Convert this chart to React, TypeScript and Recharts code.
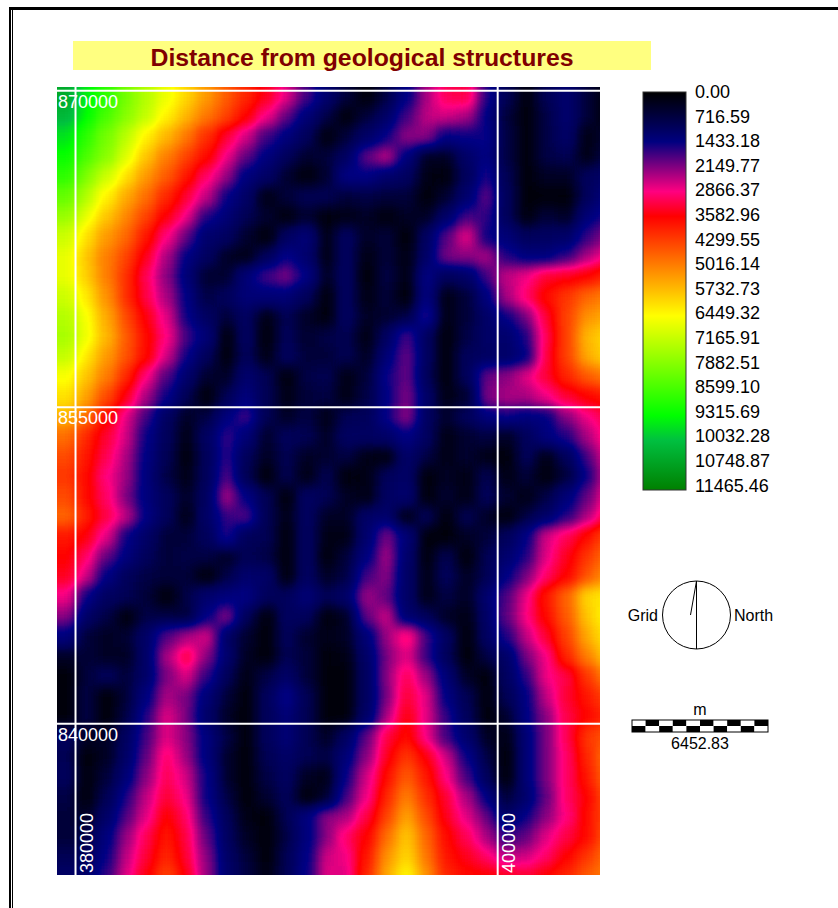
import { ReferenceLine, Scatter, ScatterChart, XAxis, YAxis } from "recharts";

const FONT = '"Liberation Sans", Arial, sans-serif';

// grid centres in map metres
const eastings = [379597, 380545, 381492, 382440, 383387, 384335, 385283, 386230, 387178, 388125, 389073, 390021, 390968, 391916, 392863, 393811, 394759, 395706, 396654, 397601, 398549, 399497, 400444, 401392, 402339, 403287, 404235, 405182];
const northings = [869702, 868754, 867807, 866859, 865912, 864964, 864016, 863069, 862121, 861174, 860226, 859278, 858331, 857383, 856436, 855488, 854540, 853593, 852645, 851698, 850750, 849802, 848855, 847907, 846960, 846012, 845064, 844117, 843169, 842222, 841274, 840326, 839379, 838431, 837484, 836536, 835588, 834641, 833693, 832746];

// distance, in hundreds of metres, one list per northing
const r01 = [105, 95, 88, 80, 73, 66, 60, 53, 46, 40, 34, 27, 18, 11, 5, 1, 6, 14, 24, 31, 32, 16, 7, 1, 7, 11, 5, 1];
const r02 = [102, 93, 85, 78, 71, 63, 56, 49, 43, 36, 28, 20, 12, 6, 1, 5, 10, 18, 25, 26, 24, 14, 5, 1, 6, 11, 5, 1];
const r03 = [96, 88, 80, 72, 63, 56, 49, 41, 33, 26, 18, 13, 8, 1, 5, 10, 15, 22, 22, 14, 15, 15, 6, 1, 6, 10, 2, 4];
const r04 = [92, 85, 78, 68, 58, 50, 43, 37, 28, 20, 13, 8, 4, 5, 9, 20, 25, 13, 3, 3, 10, 14, 6, 1, 6, 7, 2, 6];
const r05 = [88, 79, 70, 61, 53, 46, 38, 30, 23, 13, 10, 4, 1, 4, 14, 14, 11, 9, 2, 1, 8, 16, 7, 1, 3, 3, 8, 10];
const r06 = [82, 73, 63, 55, 48, 40, 33, 25, 15, 10, 2, 5, 7, 7, 5, 6, 5, 5, 1, 4, 11, 20, 8, 1, 1, 1, 8, 13];
const r07 = [76, 67, 58, 51, 43, 35, 28, 16, 12, 7, 4, 1, 4, 1, 2, 3, 1, 3, 3, 10, 18, 17, 8, 1, 5, 3, 12, 16];
const r08 = [70, 61, 53, 47, 38, 29, 20, 11, 9, 4, 1, 9, 12, 2, 9, 3, 5, 1, 9, 19, 27, 15, 12, 8, 9, 10, 17, 22];
const r09 = [67, 58, 50, 43, 34, 24, 14, 9, 3, 2, 8, 15, 11, 2, 9, 2, 5, 2, 10, 21, 22, 24, 16, 13, 13, 17, 24, 29];
const r10 = [67, 59, 50, 41, 31, 22, 12, 4, 4, 12, 18, 21, 14, 3, 9, 1, 6, 2, 14, 8, 10, 18, 25, 28, 33, 34, 36, 40];
const r11 = [70, 62, 52, 41, 32, 24, 14, 6, 8, 12, 12, 12, 8, 1, 9, 2, 5, 1, 14, 2, 5, 13, 24, 30, 37, 42, 47, 50];
const r12 = [73, 65, 55, 44, 35, 27, 15, 9, 5, 9, 2, 7, 3, 1, 9, 3, 4, 6, 17, 2, 5, 10, 15, 21, 33, 43, 52, 55];
const r13 = [74, 66, 56, 46, 37, 29, 18, 12, 1, 9, 1, 8, 4, 6, 7, 2, 9, 18, 9, 1, 6, 10, 11, 16, 31, 43, 56, 60];
const r14 = [71, 62, 53, 45, 37, 26, 15, 8, 1, 8, 2, 9, 5, 5, 7, 3, 12, 20, 9, 1, 8, 9, 10, 14, 32, 43, 55, 60];
const r15 = [65, 58, 50, 40, 29, 19, 11, 4, 3, 11, 7, 1, 6, 7, 2, 5, 15, 20, 8, 1, 8, 20, 22, 27, 33, 40, 46, 50];
const r16 = [61, 54, 44, 34, 24, 15, 7, 1, 7, 13, 7, 2, 5, 6, 2, 6, 14, 21, 10, 2, 4, 21, 24, 24, 28, 33, 36, 38];
const r17 = [56, 48, 37, 27, 18, 9, 3, 6, 13, 18, 7, 3, 6, 2, 7, 8, 15, 22, 9, 4, 8, 13, 15, 13, 14, 22, 28, 32];
const r18 = [48, 40, 33, 26, 15, 8, 2, 9, 17, 12, 4, 8, 7, 3, 9, 9, 10, 14, 9, 2, 4, 6, 3, 8, 13, 16, 24, 30];
const r19 = [44, 38, 31, 24, 14, 7, 1, 8, 17, 8, 3, 7, 3, 4, 6, 2, 1, 10, 6, 2, 4, 2, 1, 8, 2, 8, 18, 27];
const r20 = [42, 37, 29, 23, 13, 6, 2, 8, 19, 7, 1, 7, 2, 7, 1, 2, 8, 10, 1, 3, 2, 7, 2, 5, 1, 5, 15, 25];
const r21 = [44, 37, 30, 21, 13, 8, 3, 9, 24, 14, 7, 1, 9, 7, 3, 2, 9, 11, 1, 4, 2, 8, 4, 2, 6, 12, 20, 28];
const r22 = [47, 39, 32, 25, 14, 8, 2, 10, 17, 19, 7, 2, 9, 3, 3, 10, 11, 2, 8, 1, 7, 3, 1, 6, 10, 16, 24, 32];
const r23 = [38, 35, 27, 15, 10, 5, 5, 8, 16, 8, 7, 1, 9, 2, 2, 11, 21, 12, 1, 1, 3, 5, 8, 14, 26, 31, 37, 44];
const r24 = [36, 30, 20, 13, 8, 5, 6, 6, 3, 7, 6, 1, 9, 1, 5, 13, 24, 11, 1, 7, 1, 7, 11, 16, 27, 34, 42, 48];
const r25 = [34, 26, 14, 8, 6, 5, 5, 1, 6, 11, 10, 1, 9, 3, 6, 18, 22, 10, 2, 8, 3, 7, 14, 21, 30, 36, 45, 52];
const r26 = [28, 15, 9, 7, 5, 1, 6, 11, 13, 14, 8, 8, 12, 7, 10, 23, 20, 10, 2, 6, 3, 11, 19, 28, 38, 47, 60, 62];
const r27 = [22, 10, 6, 1, 6, 6, 5, 14, 22, 8, 1, 9, 8, 1, 3, 20, 26, 11, 8, 3, 2, 10, 20, 29, 37, 46, 58, 64];
const r28 = [13, 5, 3, 4, 10, 19, 24, 26, 10, 4, 1, 8, 4, 2, 3, 12, 23, 30, 18, 9, 1, 9, 16, 25, 33, 43, 55, 62];
const r29 = [3, 5, 3, 3, 10, 24, 33, 22, 11, 3, 1, 7, 5, 1, 2, 10, 21, 27, 17, 8, 1, 6, 10, 21, 28, 40, 50, 58];
const r30 = [1, 5, 8, 5, 10, 21, 27, 17, 8, 2, 6, 10, 5, 1, 1, 9, 22, 31, 23, 12, 3, 1, 9, 17, 28, 32, 42, 50];
const r31 = [1, 6, 1, 5, 13, 24, 21, 12, 5, 1, 8, 15, 7, 1, 1, 9, 21, 33, 27, 14, 7, 1, 7, 14, 25, 33, 38, 43];
const r32 = [1, 6, 1, 6, 16, 27, 21, 10, 3, 1, 8, 12, 7, 1, 1, 10, 24, 35, 27, 17, 8, 1, 4, 14, 22, 32, 36, 40];
const r33 = [8, 3, 3, 9, 18, 27, 22, 13, 6, 1, 8, 12, 7, 3, 9, 20, 32, 37, 28, 18, 11, 3, 2, 12, 21, 31, 42, 45];
const r34 = [7, 1, 3, 10, 20, 30, 23, 13, 4, 1, 7, 10, 7, 6, 12, 22, 34, 42, 35, 26, 15, 6, 1, 12, 21, 30, 40, 48];
const r35 = [8, 1, 5, 12, 22, 31, 26, 15, 4, 1, 6, 9, 3, 2, 15, 26, 37, 46, 38, 29, 18, 8, 1, 12, 21, 30, 38, 47];
const r36 = [6, 1, 7, 16, 25, 33, 28, 15, 6, 1, 4, 8, 1, 4, 18, 28, 40, 50, 41, 33, 24, 14, 5, 11, 20, 30, 36, 44];
const r37 = [5, 3, 10, 19, 27, 36, 30, 17, 8, 2, 1, 7, 13, 22, 24, 32, 43, 54, 44, 34, 27, 20, 10, 15, 22, 29, 37, 44];
const r38 = [5, 6, 13, 23, 31, 38, 32, 20, 9, 3, 1, 6, 13, 22, 30, 36, 48, 58, 47, 37, 31, 24, 17, 20, 27, 32, 37, 45];
const r39 = [7, 8, 15, 25, 33, 40, 33, 22, 10, 5, 1, 7, 14, 26, 28, 38, 52, 60, 49, 38, 34, 30, 25, 26, 30, 36, 42, 48];
const r40 = [10, 10, 17, 27, 35, 43, 35, 23, 11, 6, 2, 7, 15, 27, 27, 40, 55, 64, 52, 40, 37, 36, 34, 33, 36, 40, 46, 50];
const rows = [r01, r02, r03, r04, r05, r06, r07, r08, r09, r10, r11, r12, r13, r14, r15, r16, r17, r18, r19, r20, r21, r22, r23, r24, r25, r26, r27, r28, r29, r30, r31, r32, r33, r34, r35, r36, r37, r38, r39, r40];

const legendLabels = ["0.00", "716.59", "1433.18", "2149.77", "2866.37", "3582.96", "4299.55", "5016.14", "5732.73", "6449.32", "7165.91", "7882.51", "8599.10", "9315.69", "10032.28", "10748.87", "11465.46"];
const legendColors = ["#000000", "#000040", "#000080", "#800080", "#ff0080", "#ff0000", "#ff4000", "#ff8000", "#ffbf00", "#ffff00", "#bfff00", "#80ff00", "#40ff00", "#00ff00", "#00c040", "#00a020", "#008000"];
// same ramp with a lifted low end for the map, the estimated lows run a bit dark
const mapColors = ["#000000", "#000054", "#000084", ...legendColors.slice(3)];
const maxValue = 11465.46;

const xTicks = [380000, 400000];
const yTicks = [870000, 855000, 840000];

const cells = rows.flatMap((row, r) =>
  row.map((v, c) => ({ x: eastings[c], y: northings[r], value: v * 100, r, c })),
);

const channel = (i: number) =>
  mapColors.map((h) => (parseInt(h.slice(1 + i * 2, 3 + i * 2), 16) / 255).toFixed(3)).join(" ");

// grey = distance; the filter smooths it and then maps grey to the colour ramp
function Cell(props: any) {
  const { cx, cy, payload } = props;
  const g = Math.round((255 * Math.min(payload.value, maxValue)) / maxValue);
  const left = payload.c === 0 ? 60 : 0;
  const right = payload.c === eastings.length - 1 ? 60 : 0;
  const top = payload.r === 0 ? 60 : 0;
  const bottom = payload.r === northings.length - 1 ? 60 : 0;
  return (
    <rect
      x={cx - 10.5 - left}
      y={cy - 10.5 - top}
      width={21 + left + right}
      height={21 + top + bottom}
      fill={`rgb(${g},${g},${g})`}
      shapeRendering="crispEdges"
    />
  );
}

function EastTick({ x, payload }: any) {
  return (
    <text transform={`translate(${x + 17} 786) rotate(-90)`} fill="#fff" fontSize={18} fontFamily={FONT}>
      {payload.value}
    </text>
  );
}

function NorthTick({ y, payload }: any) {
  return (
    <text x={1} y={y + 17} fill="#fff" fontSize={18} fontFamily={FONT}>
      {payload.value}
    </text>
  );
}

function Side() {
  const seg = 13.6;
  const bar = [0, 1, 2, 3, 4, 5, 6, 7, 8, 9];
  return (
    <svg width={838} height={908} style={{ position: "absolute", left: 0, top: 0 }} fontFamily={FONT}>
      <defs>
        <linearGradient id="ramp" x1="0" y1="0" x2="0" y2="1">
          {legendColors.map((c, i) => (
            <stop key={c} offset={i / 16} stopColor={c} />
          ))}
        </linearGradient>
      </defs>
      <rect x={643} y={92} width={43} height={398} fill="url(#ramp)" stroke="#333" />
      {legendLabels.map((t, i) => (
        <text key={t} x={695} y={98 + i * 24.6} fontSize={18} fill="#000">
          {t}
        </text>
      ))}
      <circle cx={696.5} cy={615} r={34} fill="none" stroke="#000" />
      <line x1={696.5} y1={581} x2={696.5} y2={649} stroke="#000" />
      <line x1={696.5} y1={581} x2={690.5} y2={615} stroke="#000" />
      <text x={658} y={621} fontSize={16} textAnchor="end">Grid</text>
      <text x={734} y={621} fontSize={16}>North</text>
      <text x={700} y={715} fontSize={16} textAnchor="middle">m</text>
      {bar.map((i) => (
        <g key={i}>
          <rect x={632 + i * seg} y={720} width={seg} height={6} fill={i % 2 ? "#000" : "#fff"} />
          <rect x={632 + i * seg} y={726} width={seg} height={6} fill={i % 2 ? "#fff" : "#000"} />
        </g>
      ))}
      <rect x={632} y={720} width={136} height={12} fill="none" stroke="#000" />
      <text x={700} y={749} fontSize={16} textAnchor="middle">6452.83</text>
    </svg>
  );
}

export default function App() {
  return (
    <div style={{ position: "absolute", left: 0, top: 0, width: 838, height: 908, background: "#fff", overflow: "hidden" }}>
      <svg width={0} height={0} style={{ position: "absolute" }}>
        <filter id="heat" x="0" y="0" width="1" height="1" colorInterpolationFilters="sRGB">
          <feGaussianBlur stdDeviation={6.5} />
          <feComponentTransfer>
            <feFuncR type="table" tableValues={channel(0)} />
            <feFuncG type="table" tableValues={channel(1)} />
            <feFuncB type="table" tableValues={channel(2)} />
          </feComponentTransfer>
        </filter>
      </svg>

      {/* frame */}
      <div style={{ position: "absolute", left: 9, top: 7, width: 829, height: 3, background: "#000" }} />
      <div style={{ position: "absolute", left: 9, top: 7, width: 2, height: 901, background: "#000" }} />
      <div style={{ position: "absolute", left: 12, top: 7, width: 1, height: 901, background: "#000" }} />

      {/* title */}
      <div
        style={{
          position: "absolute", left: 73, top: 41, width: 578, height: 29, background: "#ffff80", color: "#800000",
          fontFamily: FONT, fontWeight: 700, fontSize: 24.8, lineHeight: "33px", textAlign: "center", whiteSpace: "nowrap",
        }}
      >
        Distance from geological structures
      </div>

      {/* map raster */}
      <div style={{ position: "absolute", left: 57, top: 87, width: 543, height: 788, overflow: "hidden" }}>
        <div style={{ position: "absolute", left: -30, top: -30, width: 603, height: 848, filter: "url(#heat)" }}>
          <ScatterChart width={603} height={848} margin={{ top: 0, right: 0, bottom: 0, left: 0 }}>
            <XAxis type="number" dataKey="x" hide domain={[377702, 406272]} />
            <YAxis type="number" dataKey="y" hide domain={[831419, 871597]} />
            <Scatter data={cells} shape={Cell} isAnimationActive={false} />
          </ScatterChart>
        </div>
      </div>

      {/* map grid and coordinates */}
      <div style={{ position: "absolute", left: 57, top: 87 }}>
        <ScatterChart width={543} height={788} margin={{ top: 0, right: 0, bottom: 0, left: 0 }}>
          <XAxis type="number" dataKey="x" mirror allowDataOverflow domain={[379123, 404847]} ticks={xTicks} interval={0} axisLine={false} tickLine={false} tick={EastTick} />
          <YAxis type="number" dataKey="y" mirror allowDataOverflow domain={[832831, 870175]} ticks={yTicks} interval={0} axisLine={false} tickLine={false} tick={NorthTick} />
          {xTicks.map((t) => (
            <ReferenceLine key={t} x={t} stroke="#fff" strokeWidth={2} />
          ))}
          {yTicks.map((t) => (
            <ReferenceLine key={t} y={t} stroke="#fff" strokeWidth={2} />
          ))}
          <Scatter data={[]} isAnimationActive={false} />
        </ScatterChart>
      </div>

      <Side />
    </div>
  );
}
